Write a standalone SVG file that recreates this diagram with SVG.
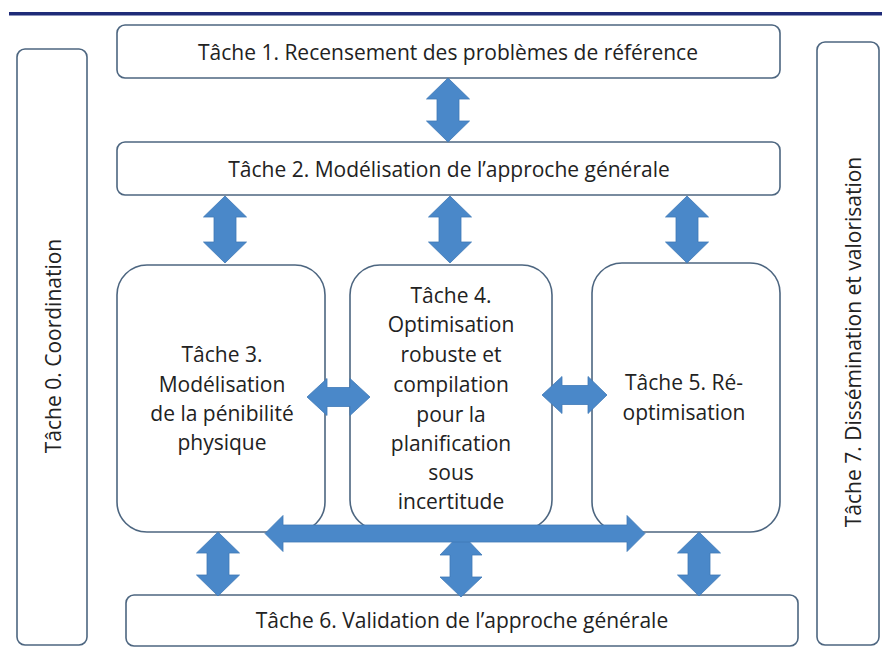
<svg xmlns="http://www.w3.org/2000/svg" width="882" height="648" viewBox="0 0 882 648">
<style>
.box{fill:#ffffff;stroke:#4d6680;stroke-width:1.6}
.arr{fill:#4a88c9;stroke:#3f78b6;stroke-width:0.8;stroke-linejoin:miter}
.t{font-family:"Open Sans","Liberation Sans",sans-serif;font-size:21px;fill:#222222;text-anchor:middle}
</style>
<rect x="0" y="0" width="882" height="648" fill="#ffffff"/>
<rect x="9" y="12" width="873" height="3.5" fill="#1f2b78"/>
<g id="t0"><rect class="box" x="17" y="49" width="70" height="596" rx="8"/><text class="t" transform="translate(61,346) rotate(-90)">Tâche 0. Coordination</text></g>
<g id="t7"><rect class="box" x="817" y="42" width="62" height="603" rx="8"/><text class="t" transform="translate(861,342) rotate(-90)">Tâche 7. Dissémination et valorisation</text></g>
<g id="t1"><rect class="box" x="117" y="25" width="663" height="53" rx="8"/><text class="t" x="448" y="60">Tâche 1. Recensement des problèmes de référence</text></g>
<g id="t2"><rect class="box" x="117" y="142" width="663" height="53" rx="8"/><text class="t" x="449" y="177">Tâche 2. Modélisation de l’approche générale</text></g>
<g id="t3"><rect class="box" x="117" y="265" width="208" height="267" rx="30"/><text class="t" x="222" y="362">Tâche 3.</text><text class="t" x="222" y="392">Modélisation</text><text class="t" x="222" y="421">de la pénibilité</text><text class="t" x="222" y="450">physique</text></g>
<g id="t4"><rect class="box" x="350" y="265" width="202" height="265" rx="30"/><text class="t" x="451" y="303">Tâche 4.</text><text class="t" x="451" y="332">Optimisation</text><text class="t" x="451" y="362">robuste et</text><text class="t" x="451" y="392">compilation</text><text class="t" x="451" y="422">pour la</text><text class="t" x="451" y="451">planification</text><text class="t" x="451" y="480">sous</text><text class="t" x="451" y="509">incertitude</text></g>
<g id="t5"><rect class="box" x="592" y="263" width="188" height="269" rx="30"/><text class="t" x="684" y="390">Tâche 5. Ré-</text><text class="t" x="684" y="420">optimisation</text></g>
<g id="t6"><rect class="box" x="126" y="595" width="672" height="51" rx="8"/><text class="t" x="462" y="628">Tâche 6. Validation de l’approche générale</text></g>
<g id="connectors">
<path class="arr" d="M448,78 L469.5,99 L459,99 L459,121 L469.5,121 L448,142 L426.5,121 L437,121 L437,99 L426.5,99 Z"/>
<path class="arr" d="M225,196 L246.5,217 L236,217 L236,242 L246.5,242 L225,263 L203.5,242 L214,242 L214,217 L203.5,217 Z"/>
<path class="arr" d="M450,196 L471.5,217 L461,217 L461,242 L471.5,242 L450,263 L428.5,242 L439,242 L439,217 L428.5,217 Z"/>
<path class="arr" d="M687,196 L708.5,217 L698,217 L698,242 L708.5,242 L687,263 L665.5,242 L676,242 L676,217 L665.5,217 Z"/>
<path class="arr" d="M307,397 L327,378.5 L327,387.5 L350,387.5 L350,378.5 L370,397 L350,415.5 L350,406.5 L327,406.5 L327,415.5 Z"/>
<path class="arr" d="M542,395 L562,376.5 L562,385.5 L588,385.5 L588,376.5 L607,395 L588,413.5 L588,404.5 L562,404.5 L562,413.5 Z"/>
<path class="arr" d="M218,532 L239.5,553 L229,553 L229,575 L239.5,575 L218,596 L196.5,575 L207,575 L207,553 L196.5,553 Z"/>
<path class="arr" d="M461,533 L482,555 L472,555 L472,577 L482,577 L461,597 L440,577 L450,577 L450,555 L440,555 Z"/>
<path class="arr" d="M699,532 L720.5,553 L710,553 L710,575 L720.5,575 L699,596 L677.5,575 L688,575 L688,553 L677.5,553 Z"/>
<path class="arr" d="M265,533.5 L283,515.5 L283,525 L627,525 L627,515.5 L645,533.5 L627,551.5 L627,542 L283,542 L283,551.5 Z"/>
</g>
</svg>
